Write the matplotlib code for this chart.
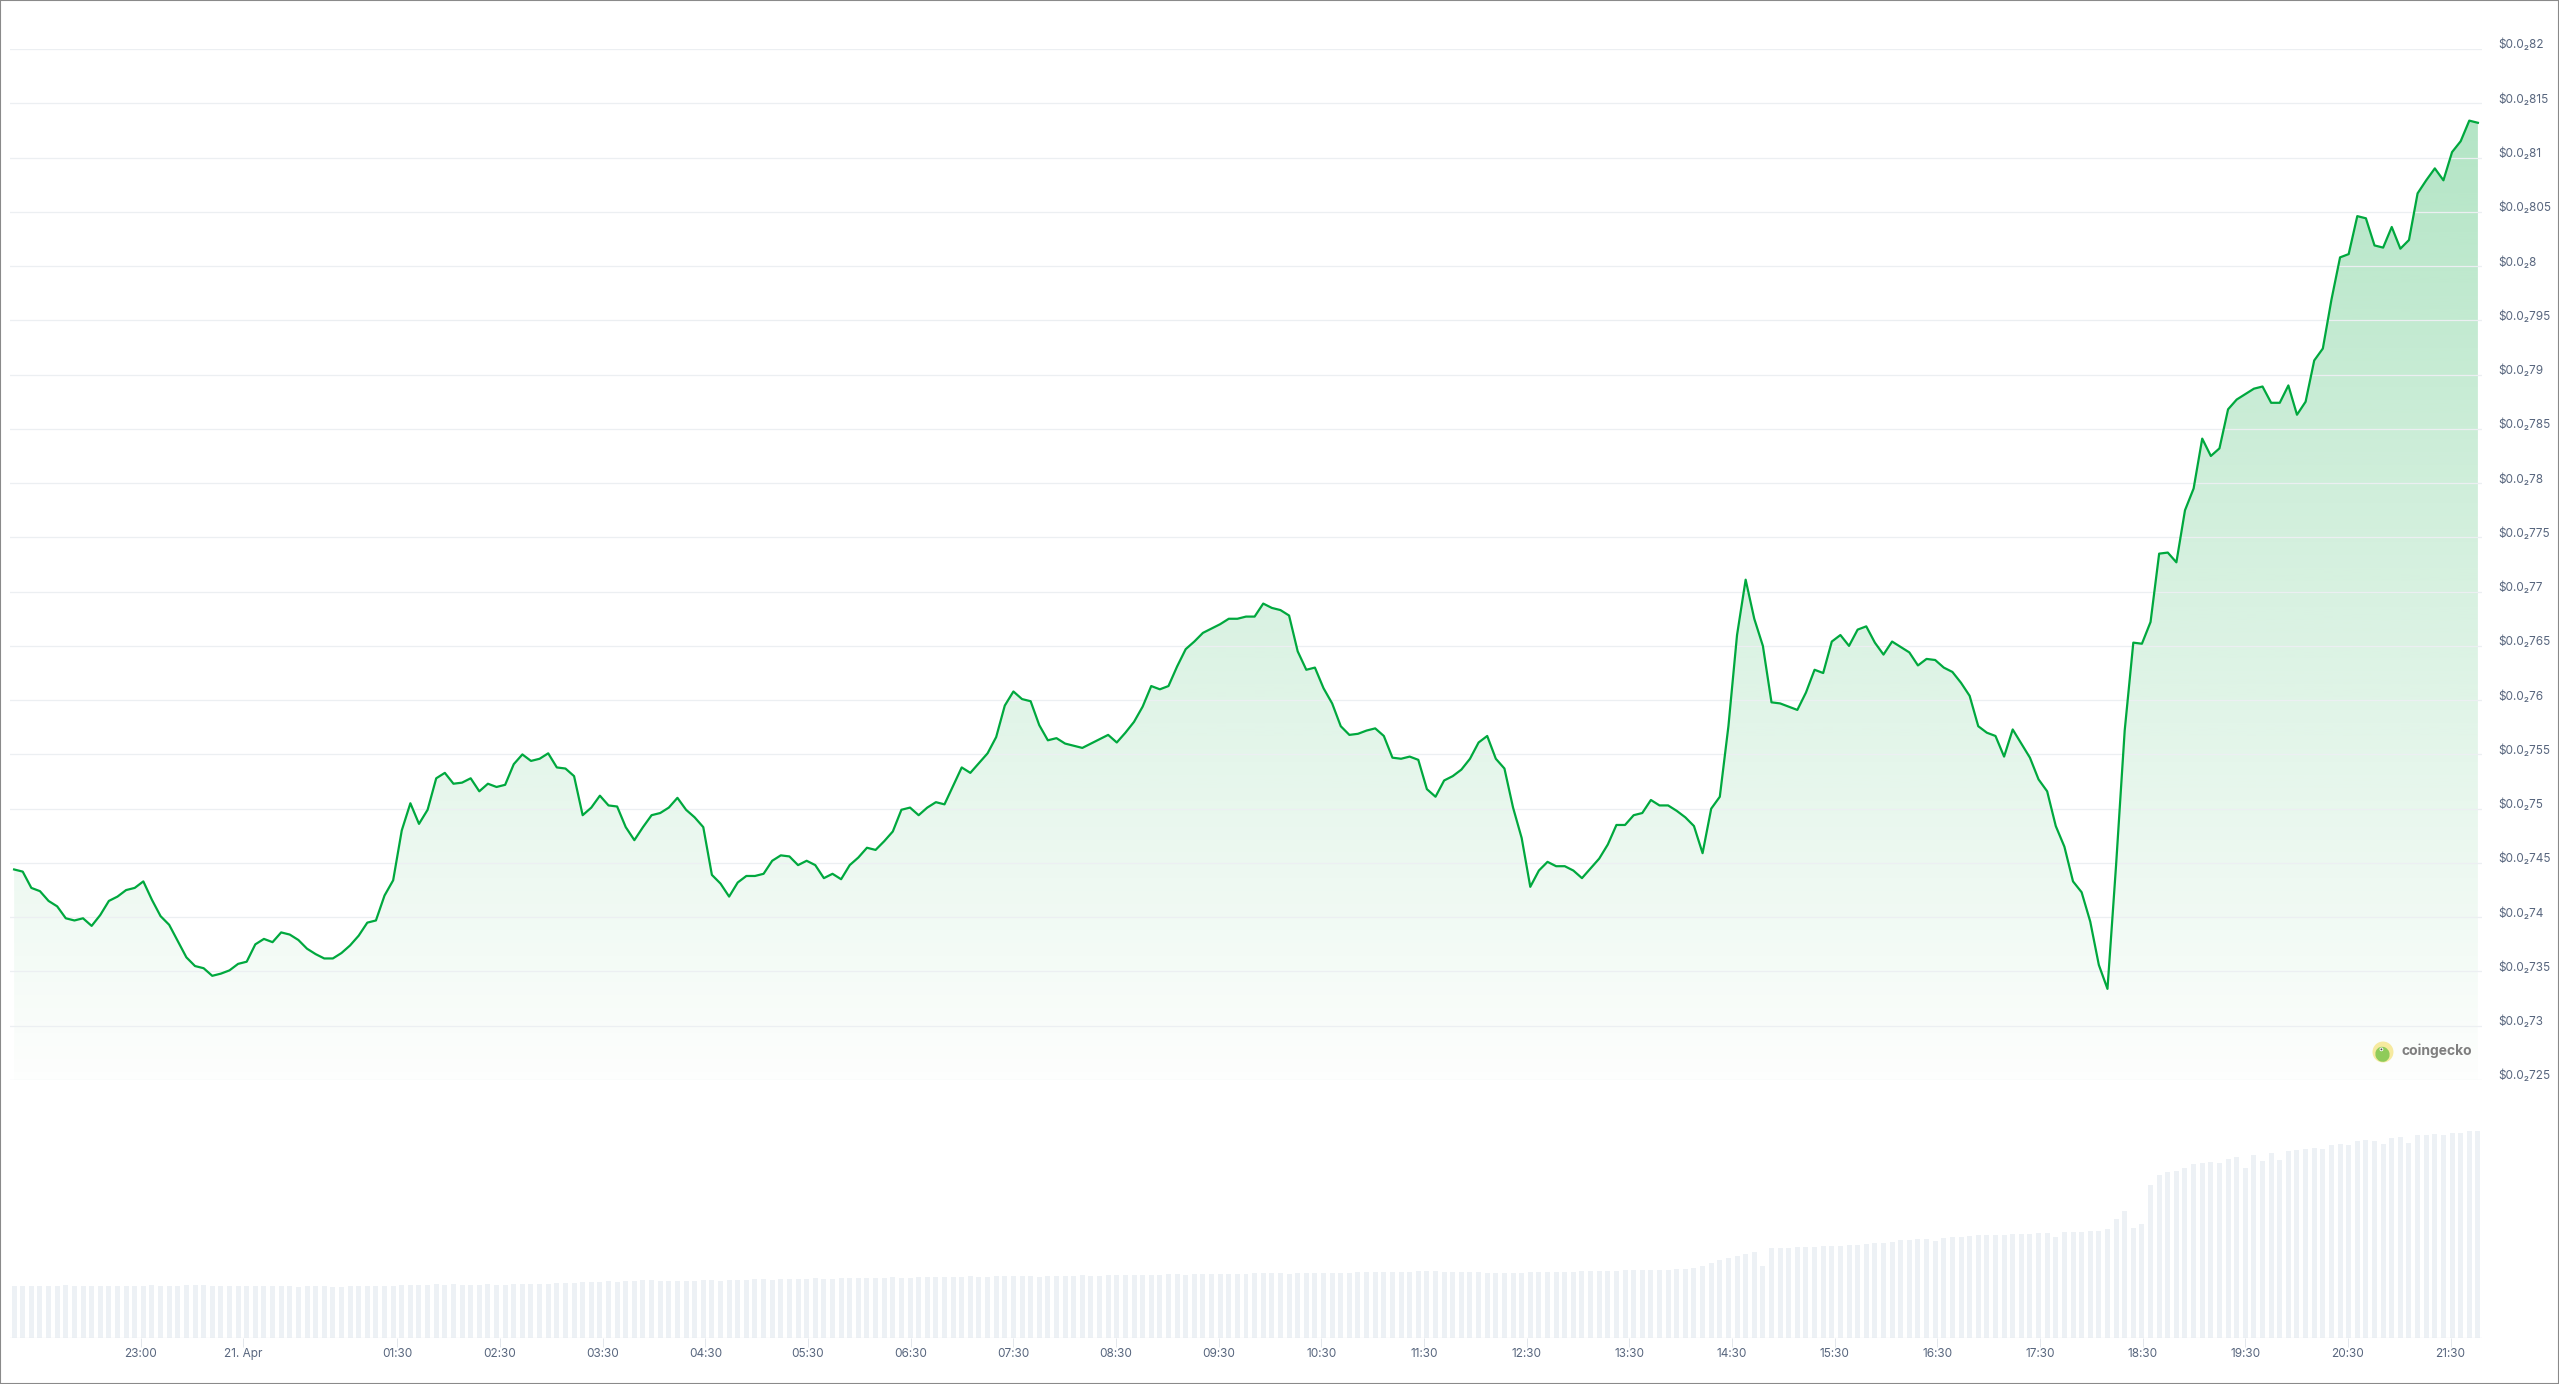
import numpy as np
import matplotlib
matplotlib.use("Agg")
import matplotlib.pyplot as plt
from matplotlib.patches import Polygon, Circle, Ellipse, Rectangle

# ---------------- data ----------------
# price in units of 1e-6 USD, one point every ~5 minutes over 24h
price_e6 = [
    7444, 7442, 7427, 7424, 7415, 7410, 7399, 7397, 7399, 7392,
    7402, 7415, 7419, 7425, 7427, 7433, 7416, 7401, 7393, 7378,
    7363, 7355, 7353, 7346, 7348, 7351, 7357, 7359, 7375, 7380,
    7377, 7386, 7384, 7379, 7371, 7366, 7362, 7362, 7367, 7374,
    7383, 7395, 7397, 7420, 7434, 7480, 7505, 7486, 7499, 7528,
    7533, 7523, 7524, 7528, 7516, 7523, 7520, 7522, 7541, 7550,
    7544, 7546, 7551, 7538, 7537, 7530, 7494, 7501, 7512, 7503,
    7502, 7483, 7471, 7483, 7494, 7496, 7501, 7510, 7499, 7492,
    7483, 7439, 7431, 7419, 7432, 7438, 7438, 7440, 7452, 7457,
    7456, 7448, 7452, 7448, 7436, 7440, 7435, 7448, 7455, 7464,
    7462, 7470, 7479, 7499, 7501, 7494, 7501, 7506, 7504, 7521,
    7538, 7533, 7542, 7551, 7566, 7595, 7608, 7601, 7599, 7577,
    7563, 7565, 7560, 7558, 7556, 7560, 7564, 7568, 7561, 7570,
    7580, 7594, 7613, 7610, 7613, 7631, 7647, 7654, 7662, 7666,
    7670, 7675, 7675, 7677, 7677, 7689, 7685, 7683, 7678, 7645,
    7628, 7630, 7611, 7597, 7576, 7568, 7569, 7572, 7574, 7567,
    7547, 7546, 7548, 7545, 7518, 7511, 7526, 7530, 7536, 7546,
    7561, 7567, 7546, 7537, 7501, 7473, 7428, 7443, 7451, 7447,
    7447, 7443, 7436, 7445, 7454, 7467, 7485, 7485, 7494, 7496,
    7508, 7503, 7503, 7498, 7492, 7484, 7459, 7500, 7511, 7576,
    7660, 7711, 7675, 7650, 7598, 7597, 7594, 7591, 7607, 7628,
    7625, 7654, 7660, 7650, 7665, 7668, 7653, 7642, 7654, 7649,
    7644, 7632, 7638, 7637, 7630, 7626, 7616, 7604, 7576, 7570,
    7567, 7548, 7573, 7560, 7547, 7527, 7516, 7484, 7465, 7433,
    7423, 7396, 7356, 7334, 7448, 7572, 7653, 7652, 7672, 7735,
    7736, 7727, 7775, 7795, 7841, 7825, 7832, 7868, 7877, 7882,
    7887, 7889, 7874, 7874, 7890, 7863, 7875, 7913, 7924, 7969,
    8008, 8011, 8046, 8044, 8019, 8017, 8036, 8016, 8024, 8067,
    8079, 8090, 8079, 8105, 8115, 8134, 8132,
]

# relative trading volume (no axis in the reference, arbitrary units)
volume_rel = [
    52, 52, 52, 52, 52, 52, 53, 52, 52, 52,
    52, 52, 52, 52, 52, 52, 53, 52, 52, 52,
    53, 53, 53, 52, 52, 52, 52, 52, 52, 52,
    52, 52, 52, 51, 52, 52, 52, 51, 51, 52,
    52, 52, 52, 52, 52, 53, 53, 53, 53, 54,
    53, 54, 53, 53, 53, 54, 53, 53, 54, 54,
    54, 54, 54, 55, 55, 55, 56, 56, 56, 57,
    56, 57, 57, 58, 58, 57, 57, 57, 57, 57,
    58, 58, 57, 58, 58, 58, 59, 59, 58, 59,
    59, 59, 59, 60, 59, 59, 60, 60, 60, 60,
    60, 60, 61, 60, 60, 61, 61, 61, 61, 61,
    61, 62, 61, 61, 62, 62, 62, 62, 62, 61,
    62, 62, 62, 62, 63, 62, 62, 63, 63, 63,
    63, 63, 63, 63, 64, 64, 63, 64, 64, 64,
    64, 64, 64, 64, 65, 65, 65, 65, 64, 65,
    65, 65, 65, 65, 65, 65, 66, 66, 66, 66,
    66, 66, 66, 67, 67, 67, 66, 66, 66, 66,
    66, 65, 65, 65, 65, 65, 66, 66, 66, 66,
    66, 66, 67, 67, 67, 67, 67, 68, 68, 68,
    68, 68, 68, 69, 69, 70, 72, 75, 78, 80,
    82, 84, 86, 72, 90, 90, 90, 91, 91, 91,
    92, 92, 92, 93, 93, 94, 95, 95, 96, 98,
    98, 99, 99, 97, 100, 101, 101, 102, 103, 103,
    103, 103, 104, 104, 104, 105, 105, 101, 106, 106,
    106, 107, 107, 109, 119, 127, 110, 114, 153, 163,
    166, 167, 170, 174, 175, 176, 175, 179, 181, 170,
    183, 177, 185, 178, 187, 188, 189, 190, 189, 193,
    194, 193, 197, 198, 197, 194, 200, 201, 195, 203,
    203, 204, 203, 205, 205, 207, 207,
]

start_hour = 21 + 46 / 60      # 20 Apr, 21:46 (hours since 20 Apr 00:00)
span_hours = 24.0

tick_hours = [23.0, 24.0] + [25.5 + k for k in range(21)]
tick_labels = ["23:00", "21. Apr", "01:30", "02:30", "03:30", "04:30", "05:30",
               "06:30", "07:30", "08:30", "09:30", "10:30", "11:30", "12:30",
               "13:30", "14:30", "15:30", "16:30", "17:30", "18:30", "19:30",
               "20:30", "21:30"]

y_levels_e6 = [7250, 7300, 7350, 7400, 7450, 7500, 7550, 7600, 7650, 7700,
               7750, 7800, 7850, 7900, 7950, 8000, 8050, 8100, 8150, 8200]

# ---------------- styling ----------------
LINE = "#00a83e"
GRID = "#eceff2"
LABEL = "#58667e"
VOL = "#edf1f5"
FONT = ["Inter", "DejaVu Sans"]

W, H = 2559, 1384
DPI = 100
fig = plt.figure(figsize=(W / DPI, H / DPI), dpi=DPI)
fig.patch.set_facecolor("white")


def frac(x0, y0, x1, y1):
    return [x0 / W, 1 - y1 / H, (x1 - x0) / W, (y1 - y0) / H]


price = np.array(price_e6) * 1e-6
volume = np.array(volume_rel, dtype=float)
n = len(price)
t = start_hour + np.arange(n) * span_hours / (n - 1)
step = span_hours / (n - 1)
xpad = 0.04
ymin, ymax = y_levels_e6[0] * 1e-6, y_levels_e6[-1] * 1e-6

# ---------------- price panel ----------------
ax = fig.add_axes(frac(10, 49, 2482, 1080))
ax.set_facecolor("none")
for s in ax.spines.values():
    s.set_visible(False)

levels = np.array(y_levels_e6) * 1e-6
ax.set_yticks(levels)
ax.grid(axis="y", color=GRID, lw=0.9, zorder=0)
ax.tick_params(left=False, right=False, bottom=False, top=False,
               labelleft=False, labelbottom=False)

# gradient area fill
grad = np.zeros((256, 1, 4))
grad[..., 0] = 0 / 255
grad[..., 1] = 168 / 255
grad[..., 2] = 62 / 255
grad[:, 0, 3] = np.linspace(0.30, 0.01, 256)
im = ax.imshow(grad, extent=[t[0], t[-1], ymin, price.max()], aspect="auto",
               origin="upper", interpolation="bilinear", zorder=1)
verts = np.column_stack([np.r_[t[0], t, t[-1]], np.r_[ymin, price, ymin]])
poly = Polygon(verts, closed=True, facecolor="none", edgecolor="none")
ax.add_patch(poly)
im.set_clip_path(poly)

ax.plot(t, price, color=LINE, lw=1.6, solid_joinstyle="round", zorder=3)

ax.set_xlim(t[0] - xpad, t[-1] + xpad)
ax.set_ylim(ymin, ymax)

for v_e6, v in zip(y_levels_e6, levels):
    digits = f"{v:.5f}"[4:].rstrip("0")
    lab = "$0.0\u2082" + digits
    ax.annotate(lab, xy=(1, v), xycoords=("axes fraction", "data"),
                xytext=(16 * 0.72, 0.5 * 0.72), textcoords="offset points",
                ha="left", va="baseline", fontsize=8.5, color=LABEL,
                family=FONT, parse_math=False, annotation_clip=False)

# ---------------- volume panel ----------------
axv = fig.add_axes(frac(10, 1108, 2482, 1338))
axv.set_facecolor("none")
for s in axv.spines.values():
    s.set_visible(False)
axv.bar(t, volume, width=0.58 * step, color=VOL, edgecolor="none", zorder=1)
axv.axhline(0, color="#e3e7ec", lw=0.9, zorder=2)
axv.set_xlim(t[0] - xpad, t[-1] + xpad)
axv.set_ylim(0, 230)
axv.set_yticks([])
axv.set_xticks(tick_hours)
axv.tick_params(axis="x", length=6.5, width=0.7, color="#e3e7ec",
                labelbottom=False)
for h, lab in zip(tick_hours, tick_labels):
    axv.annotate(lab, xy=(h, 0), xycoords=("data", "axes fraction"),
                 xytext=(0, -19 * 0.72), textcoords="offset points",
                 ha="center", va="baseline", fontsize=8.5, color=LABEL,
                 family=FONT, annotation_clip=False)

# ---------------- coingecko watermark ----------------
lax = fig.add_axes(frac(2372, 1041, 2394, 1063))
lax.set_xlim(-1.05, 1.05)
lax.set_ylim(-1.05, 1.05)
lax.set_aspect("equal")
lax.axis("off")
ring = Circle((0, 0), 1.0, facecolor="#f6ea9f", edgecolor="none")
lax.add_patch(ring)
head = Ellipse((-0.05, -0.22), 1.35, 1.45, angle=20, facecolor="#8fcb5a",
               edgecolor="none")
lax.add_patch(head)
head.set_clip_path(ring)
lax.add_patch(Circle((-0.15, 0.25), 0.18, facecolor="white", edgecolor="none"))
lax.add_patch(Circle((-0.15, 0.25), 0.09, facecolor="#4a4a4a", edgecolor="none"))
fig.text(2402 / W, 1 - 1051 / H, "coingecko", fontsize=10, weight="bold",
         color="#7f7f7f", ha="left", va="center", family=FONT)

# ---------------- figure border ----------------
fig.patches.append(Rectangle((0, 0), 1, 1, transform=fig.transFigure,
                             fill=False, edgecolor="#8a8a8a", lw=1.5))

fig.savefig("out.png", dpi=DPI, facecolor="white")
